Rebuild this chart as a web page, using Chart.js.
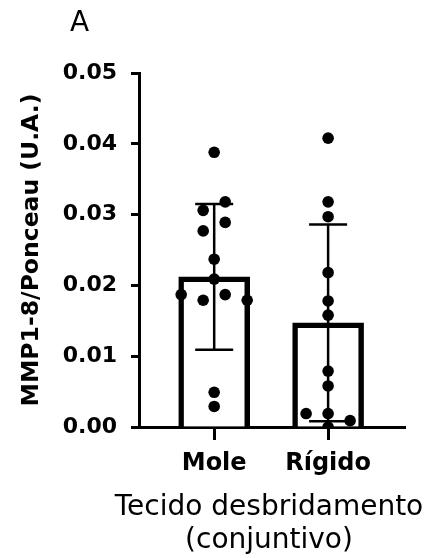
<!DOCTYPE html>
<html><head><meta charset="utf-8">
<script src="https://cdn.jsdelivr.net/npm/chart.js@4.4.1/dist/chart.umd.min.js"></script>
<style>html,body{margin:0;padding:0;background:#fff;}canvas{display:block;}</style>
</head><body>
<canvas id="c" width="430" height="558"></canvas>
<script>
// ---- data ----
const categories = ['Mole', 'Rígido'];
const categoryX = [1, 2];
const molePoints = [0.0388, 0.0306, 0.0318, 0.0277, 0.0289, 0.0237, 0.0209, 0.0187, 0.0179, 0.0187, 0.0179, 0.0049, 0.0029];
const rigidoPoints = [0.0408, 0.0318, 0.0297, 0.0218, 0.0178, 0.0158, 0.0079, 0.0058, 0.0019, 0.0019, 0.0009, 0.0000];
const means = [0.0212, 0.0147];
const sds = [0.0103, 0.0139];
const yTicks = [0, 0.01, 0.02, 0.03, 0.04, 0.05];
const panelLabel = 'A';
const yTitle = 'MMP1-8/Ponceau (U.A.)';
const xTitle = ['Tecido desbridamento', '(conjuntivo)'];

// ---- styling constants ----
const BLACK = '#000';
const Y_MIN = 0, Y_MAX = 0.05, X_MIN = 0.34, X_MAX = 2.675;
const PLOT_H = 354, PLOT_W = 266;
const DOT_ROW = 12, DOT_SPACING = 22; // px, for the scatter swarm

function swarm(values, center) {
  const pxY = PLOT_H / (Y_MAX - Y_MIN), pxX = PLOT_W / (X_MAX - X_MIN);
  const order = values.map((v, i) => i).sort((a, b) => values[b] - values[a] || a - b);
  const rows = []; let cur = null;
  order.forEach(i => {
    if (cur && (values[cur[0]] - values[i]) * pxY < DOT_ROW) cur.push(i);
    else { cur = [i]; rows.push(cur); }
  });
  const out = [];
  rows.forEach(r => {
    r.sort((a, b) => a - b);
    r.forEach((i, k) => out.push({ x: center + (k - (r.length - 1) / 2) * DOT_SPACING / pxX, y: values[i] }));
  });
  return out;
}

const groups = [molePoints, rigidoPoints];
const datasets = [];
datasets.push({
  type: 'bar', order: 3,
  data: categoryX.map((x, i) => ({ x, y: means[i] })),
  backgroundColor: '#fff', borderColor: BLACK, borderWidth: 5.5,
  borderSkipped: 'start', barThickness: 71
});
categoryX.forEach((x, i) => {
  datasets.push({
    type: 'line', order: 2,
    data: [{ x, y: means[i] - sds[i] }, { x, y: means[i] + sds[i] }],
    borderColor: BLACK, borderWidth: 2.5, pointRadius: 0, fill: false
  });
  datasets.push({
    type: 'scatter', order: 2,
    data: [{ x, y: means[i] - sds[i] }, { x, y: means[i] + sds[i] }],
    pointStyle: 'line', pointRadius: 19, borderColor: BLACK, pointBorderWidth: 2.5,
    backgroundColor: BLACK
  });
});
groups.forEach((vals, i) => {
  datasets.push({
    type: 'scatter', order: 1,
    data: swarm(vals, categoryX[i]),
    pointRadius: 5.8, pointBorderWidth: 0, backgroundColor: BLACK, borderColor: BLACK
  });
});

const textPlugin = {
  id: 'textLabels',
  afterDraw(chart) {
    const ctx = chart.ctx;
    ctx.save();
    ctx.fillStyle = BLACK;
    ctx.textBaseline = 'alphabetic';
    ctx.font = '28px "DejaVu Sans"';
    ctx.textAlign = 'left';
    ctx.fillText(panelLabel, 70, 31);
    ctx.textAlign = 'center';
    const cx = (chart.chartArea.left + chart.chartArea.right) / 2 - 3;
    xTitle.forEach((line, k) => ctx.fillText(line, cx, 515 + k * 33));
    ctx.restore();
  }
};

new Chart(document.getElementById('c'), {
  type: 'bar',
  data: { datasets },
  plugins: [textPlugin],
  options: {
    responsive: false, animation: false, devicePixelRatio: 1,
    layout: { padding: { left: 0, right: 25, top: 73, bottom: 0 } },
    plugins: { legend: { display: false }, tooltip: { enabled: false } },
    scales: {
      x: {
        type: 'linear', min: X_MIN, max: X_MAX, offset: false,
        afterBuildTicks: s => { s.ticks = categoryX.map(v => ({ value: v })); },
        afterFit: s => { s.height = 131; },
        grid: { display: true, drawOnChartArea: false, offset: false, tickLength: 13, tickWidth: 3, tickColor: BLACK },
        border: { display: true, width: 3, color: BLACK },
        ticks: {
          autoSkip: false, maxRotation: 0, padding: 9, color: BLACK,
          font: { family: 'DejaVu Sans', weight: 'bold', size: 24 },
          callback: v => categories[categoryX.indexOf(v)]
        },
        title: { display: false }
      },
      y: {
        type: 'linear', min: Y_MIN, max: Y_MAX,
        afterBuildTicks: s => { s.ticks = yTicks.map(v => ({ value: v })); },
        afterFit: s => { s.width = 139; },
        grid: { display: true, drawOnChartArea: false, tickLength: 8, tickWidth: 3, tickColor: BLACK },
        border: { display: true, width: 3, color: BLACK },
        ticks: {
          padding: 14, color: BLACK,
          font: { family: 'DejaVu Sans', weight: 'bold', size: 22 },
          callback: v => v.toFixed(2)
        },
        title: {
          display: true, text: yTitle, color: BLACK,
          font: { family: 'DejaVu Sans', weight: 'bold', size: 23.5 },
          padding: { top: 18, bottom: 0 }
        }
      }
    }
  }
});
</script>
</body></html>
